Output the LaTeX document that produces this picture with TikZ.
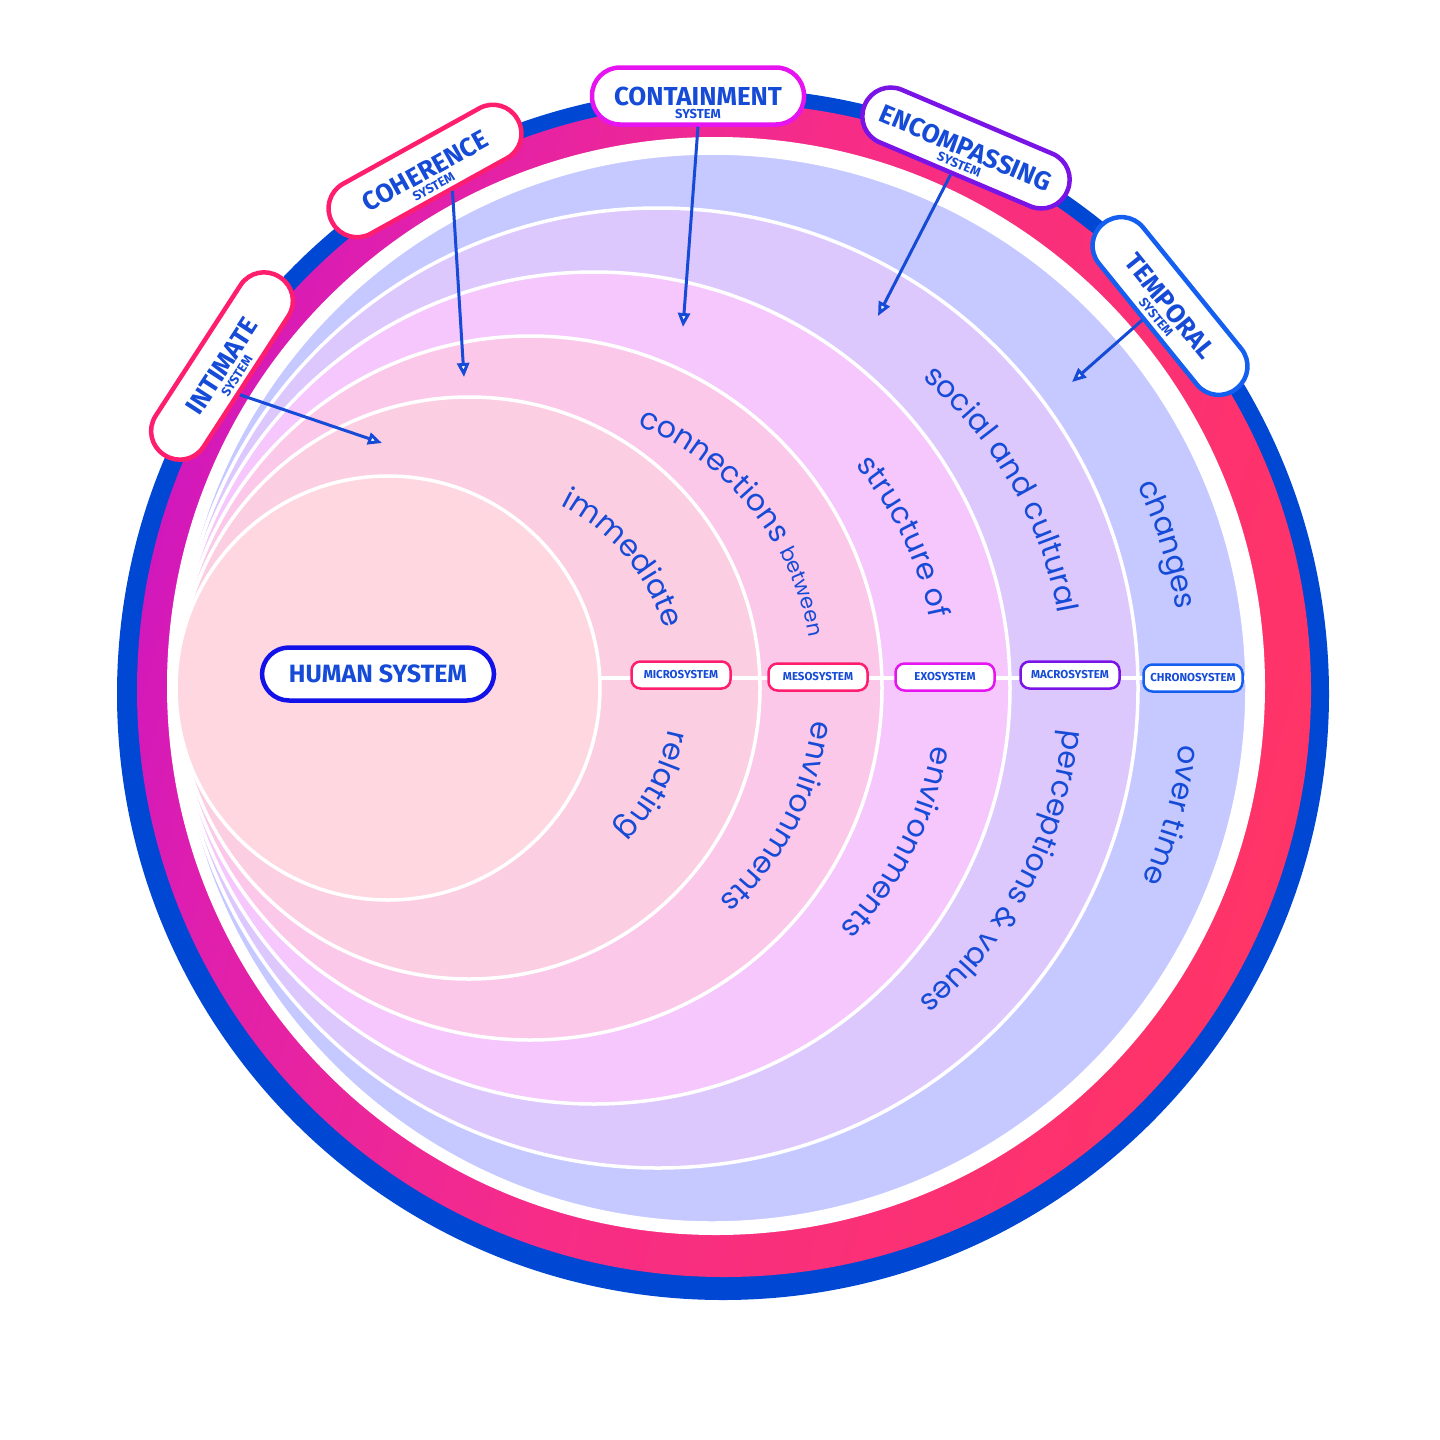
\documentclass[tikz,border=0pt]{standalone}
\usepackage{fontspec}
\usetikzlibrary{calc,decorations.text,arrows.meta}
\newfontfamily\myCurveFam{Poppins}
\newfontfamily\myLabFam{Fira Sans}
\definecolor{txtblue}{RGB}{22,75,215}
\definecolor{ringblue}{RGB}{0,72,212}
\definecolor{ringpurple}{RGB}{188,14,204}
\definecolor{ringmag}{RGB}{222,30,176}
\definecolor{ringmid}{RGB}{246,44,136}
\definecolor{ringred}{RGB}{255,52,102}
\pgfdeclarehorizontalshading{ringsh}{100bp}{color(0bp)=(ringpurple); color(16bp)=(ringpurple); color(30bp)=(ringmag); color(48bp)=(ringmid); color(75bp)=(ringred); color(100bp)=(ringred)}
\definecolor{chronofill}{RGB}{197,201,255}
\definecolor{macrofill}{RGB}{221,200,253}
\definecolor{exofill}{RGB}{245,199,252}
\definecolor{mesofill}{RGB}{251,200,234}
\definecolor{microfill}{RGB}{252,206,226}
\definecolor{humanfill}{RGB}{254,215,225}
\definecolor{pinkc}{RGB}{255,30,110}
\definecolor{magc}{RGB}{230,20,240}
\definecolor{purpc}{RGB}{122,20,230}
\definecolor{bluec}{RGB}{20,95,240}
\definecolor{humanc}{RGB}{18,18,232}
\newcommand\mypill{\myLabFam\bfseries\fontsize{26}{28}\selectfont}
\newcommand\mysys{\myLabFam\bfseries\fontsize{13}{14}\selectfont}
\newcommand\mysmall{\myLabFam\bfseries\fontsize{11.5}{12}\selectfont}
\newcommand\myhuman{\myLabFam\bfseries\fontsize{25}{27}\selectfont}
\newcommand\mycurve{\myCurveFam\fontsize{30}{32}\selectfont\color{txtblue}}
\newcommand\mycurvesm{\myCurveFam\fontsize{21}{23}\selectfont\color{txtblue}}
\newcommand\curvetext[5]{\path[decorate,decoration={text along path,text align=center,text={#5}}] ($(#1)+(#3:#2)$) arc[start angle=#3,end angle=#4,radius=#2];}
\begin{document}
\begin{tikzpicture}[x=1pt,y=-1pt,
  pill/.style={draw, fill=white, line width=4.5pt, rounded corners=28pt, minimum width=212pt, minimum height=57pt, inner sep=0pt, font=\mypill, text=txtblue},
  sysword/.style={font=\mysys, text=txtblue, inner sep=0pt},
  sysbox/.style={draw, fill=white, line width=2.5pt, rounded corners=9pt, minimum width=99pt, minimum height=27pt, inner sep=0pt, font=\mysmall, text=txtblue},
  humanbox/.style={draw=humanc, fill=white, line width=4.5pt, rounded corners=27pt, minimum width=232pt, minimum height=53pt, inner sep=0pt, font=\myhuman, text=txtblue},
  arr/.style={draw=txtblue, line width=3pt, -{Triangle[length=14pt,width=12pt,fill=white]}},
  sep/.style={draw=white, line width=3.5pt}]
\useasboundingbox (0,0) rectangle (1440,1440);
% outer rings
\fill[ringblue] (723,694) circle[radius=606pt];
\shade[shading=ringsh, shading angle=-15] (724,690) circle[radius=587pt];
\fill[white] (716,686) circle[radius=549pt];
% nested systems
\coordinate (c5) at (712,688);
\coordinate (c4) at (658,688);
\coordinate (c3) at (594,688);
\coordinate (c2) at (530,688);
\coordinate (c1) at (469,688);
\coordinate (c0) at (388,688);
\path[sep, fill=chronofill] (c5) circle[radius=535pt];
\path[sep, fill=macrofill] (c4) circle[radius=480pt];
\path[sep, fill=exofill] (c3) circle[radius=416pt];
\path[sep, fill=mesofill] (c2) circle[radius=352pt];
\path[sep, fill=microfill] (c1) circle[radius=291pt];
\path[sep, fill=humanfill] (c0) circle[radius=212pt];
\coordinate (axisL) at (600,678);
\coordinate (axisR) at (1247,678);
\draw[sep] (axisL) -- (axisR);
% curved texts
\curvetext{c1}{204pt}{110}{-30}{|\mycurve|immediate}
\curvetext{c1}{204pt}{42}{-98}{|\mycurve|relating}
\curvetext{c2}{284pt}{109}{-31}{|\mycurve|connections |\mycurvesm|between}
\curvetext{c2}{284pt}{42.5}{-97.5}{|\mycurve|environments}
\curvetext{c3}{343pt}{96}{-44}{|\mycurve|structure of}
\curvetext{c3}{343pt}{43}{-97}{|\mycurve|environments}
\curvetext{c4}{407pt}{100}{-40}{|\mycurve|social and cultural}
\curvetext{c4}{407pt}{42}{-98}{|\mycurve|perceptions {\&} values}
\curvetext{c5}{471pt}{87.5}{-52.5}{|\mycurve|changes}
\curvetext{c5}{471pt}{54.5}{-85.5}{|\mycurve|over time}
% axis labels
\node[sysbox, draw=pinkc] (micro) at (681,675) {MICROSYSTEM};
\node[sysbox, draw=pinkc] (meso) at (818,677) {MESOSYSTEM};
\node[sysbox, draw=magc] (exo) at (945,677) {EXOSYSTEM};
\node[sysbox, draw=purpc] (macro) at (1070,675) {MACROSYSTEM};
\node[sysbox, draw=bluec] (chrono) at (1193,678) {CHRONOSYSTEM};
\node[humanbox] (human) at (378,674) {HUMAN SYSTEM};
% outer pills
\node[pill, draw=pinkc, rotate=57] (intimate) at (222,366) {INTIMATE};
\node[sysword, rotate=57] (intimate-sys) at ($(intimate.center)!0.58!(intimate.south)$) {SYSTEM};
\node[pill, draw=pinkc, rotate=29] (coherence) at (425,171) {COHERENCE};
\node[sysword, rotate=29] (coherence-sys) at ($(coherence.center)!0.58!(coherence.south)$) {SYSTEM};
\node[pill, draw=magc] (containment) at (698,96) {CONTAINMENT};
\node[sysword] (containment-sys) at ($(containment.center)!0.58!(containment.south)$) {SYSTEM};
\node[pill, draw=purpc, rotate=-23, minimum width=220pt] (encompassing) at (966,148) {ENCOMPASSING};
\node[sysword, rotate=-23] (encompassing-sys) at ($(encompassing.center)!0.58!(encompassing.south)$) {SYSTEM};
\node[pill, draw=bluec, rotate=-51] (temporal) at (1170,306) {TEMPORAL};
\node[sysword, rotate=-51] (temporal-sys) at ($(temporal.center)!0.58!(temporal.south)$) {SYSTEM};
% arrows
\coordinate (intimate-tip) at (382,443);
\coordinate (coherence-tip) at (464,377);
\coordinate (containment-tip) at (683,327);
\coordinate (encompassing-tip) at (878,316);
\coordinate (temporal-tip) at (1072,382);
\draw[arr] (intimate.-115) -- (intimate-tip);
\draw[arr] (coherence.-65) -- (coherence-tip);
\draw[arr] (containment.south) -- (containment-tip);
\draw[arr] (encompassing.-97) -- (encompassing-tip);
\draw[arr] (temporal.-102) -- (temporal-tip);
\end{tikzpicture}
\end{document}
